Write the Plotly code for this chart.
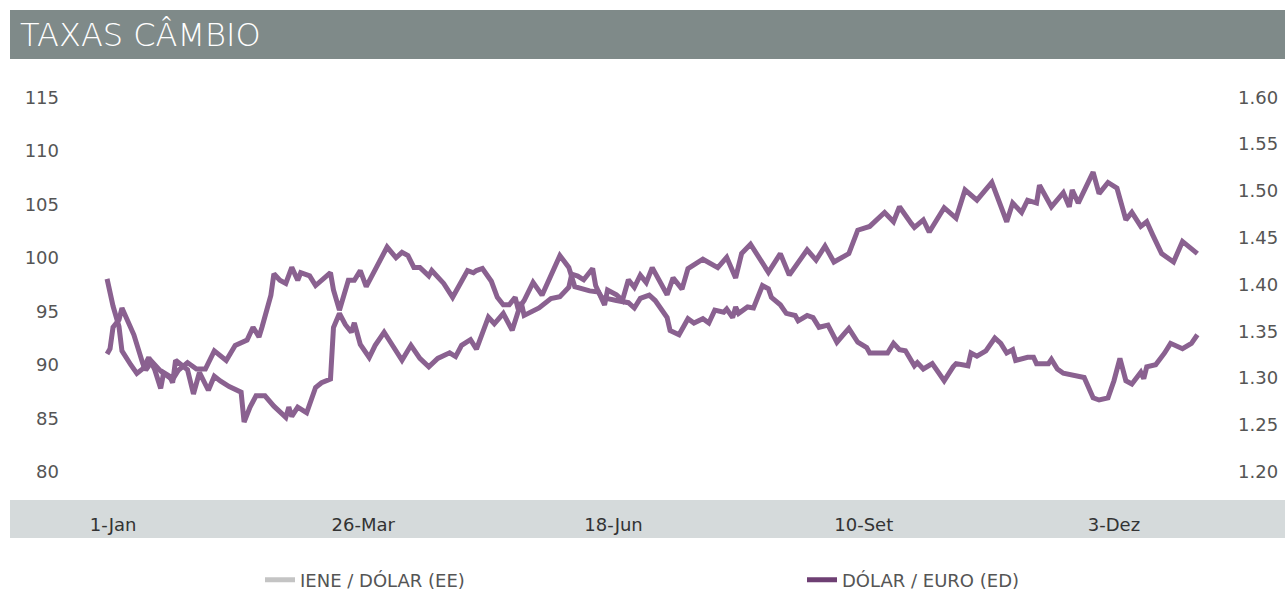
import plotly.graph_objects as go

# Day offsets from 1-Jan (2009) and values
yen_days = [-2, -1, 0, 2, 3, 7, 10, 11, 13, 16, 18, 20, 22, 25, 28, 31, 34, 37, 38, 41, 45, 47, 49, 50,
            53, 54, 56, 58, 60, 62, 63, 66, 68, 73, 74, 76, 79, 81, 83, 85, 90, 92, 95, 97, 99, 101,
            103, 105, 106, 107, 110, 111, 114, 119, 121, 122, 124, 127, 129, 131, 133, 135, 136, 138,
            141, 144, 150, 153, 155, 158, 160, 163, 164, 169, 173, 175, 177, 180, 182, 186, 187, 190,
            193, 195, 198, 200, 202, 205, 206, 208, 209, 210, 213, 215, 218, 220, 221, 224, 226, 229,
            230, 233, 235, 237, 240, 243, 247, 250, 253, 254, 260, 262, 264, 266, 268, 269, 270, 272,
            275, 277, 279, 282, 283, 287, 288, 290, 293, 296, 298, 300, 302, 303, 307, 309, 310, 314,
            315, 317, 319, 326, 329, 331, 334, 336, 338, 340, 342, 345, 346, 347, 350, 353, 355, 359,
            362, 364]
yen_values = [91.0, 91.5, 93.5, 94.2, 95.3, 92.8, 90.1, 89.5, 90.3, 89.4, 89.0, 88.6, 89.5, 90.2, 89.6,
              89.6, 91.3, 90.6, 90.4, 91.8, 92.3, 93.5, 92.6, 93.5, 96.5, 98.5, 97.9, 97.6, 99.1, 97.9,
              98.6, 98.3, 97.4, 98.6, 97.0, 95.1, 97.9, 97.9, 98.8, 97.3, 99.8, 101.0, 100.0, 100.5,
              100.2, 99.1, 99.1, 98.6, 98.3, 98.8, 98.0, 97.6, 96.3, 98.8, 98.6, 98.8, 99.0, 97.8, 96.3,
              95.6, 95.6, 96.3, 95.2, 96.0, 97.7, 96.5, 100.2, 99.1, 97.3, 97.0, 96.9, 96.8, 96.3, 96.0,
              95.8, 95.3, 96.2, 96.5, 96.0, 94.4, 93.2, 92.8, 94.3, 93.9, 94.3, 93.9, 95.1, 94.9, 95.2,
              94.4, 95.4, 94.8, 95.4, 95.3, 97.4, 97.1, 96.3, 95.6, 94.8, 94.6, 94.1, 94.6, 94.4, 93.5,
              93.7, 92.1, 93.4, 92.1, 91.6, 91.1, 91.1, 92.0, 91.4, 91.3, 90.3, 89.9, 90.2, 89.6, 90.1,
              89.2, 88.5, 89.8, 90.1, 89.9, 91.1, 90.8, 91.3, 92.5, 92.0, 91.1, 91.4, 90.4, 90.7, 90.7,
              90.1, 90.1, 90.5, 89.6, 89.2, 88.8, 86.9, 86.7, 86.9, 88.5, 90.6, 88.5, 88.2, 89.3, 88.7,
              89.8, 90.0, 91.1, 92.0, 91.5, 92.0, 92.8]

eur_days = [-2, 0, 2, 3, 6, 8, 10, 12, 14, 16, 17, 19, 20, 21, 23, 25, 27, 29, 32, 34, 36, 39, 43, 44,
            46, 48, 51, 54, 58, 59, 60, 62, 64, 65, 68, 70, 73, 74, 76, 78, 80, 81, 83, 86, 88, 91, 94,
            97, 100, 103, 106, 109, 113, 115, 117, 120, 122, 126, 128, 131, 134, 137, 138, 141, 143,
            147, 150, 153, 154, 156, 158, 161, 162, 165, 166, 169, 171, 173, 175, 177, 179, 181, 186,
            188, 191, 193, 198, 203, 206, 209, 211, 214, 220, 224, 227, 233, 236, 239, 242, 247, 250,
            254, 259, 262, 264, 268, 269, 272, 274, 279, 283, 286, 290, 295, 300, 302, 305, 307, 310,
            311, 315, 319, 321, 322, 324, 329, 331, 334, 337, 340, 342, 345, 347, 349, 352, 356, 359,
            364]
eur_values = [1.406, 1.377, 1.355, 1.329, 1.314, 1.305, 1.310, 1.322, 1.309, 1.289, 1.306, 1.302, 1.295,
              1.319, 1.314, 1.309, 1.283, 1.306, 1.287, 1.302, 1.297, 1.291, 1.285, 1.253, 1.269, 1.281,
              1.281, 1.270, 1.258, 1.269, 1.259, 1.269, 1.265, 1.263, 1.290, 1.295, 1.299, 1.354, 1.369,
              1.357, 1.349, 1.359, 1.336, 1.322, 1.335, 1.349, 1.334, 1.319, 1.335, 1.321, 1.312, 1.321,
              1.327, 1.323, 1.335, 1.341, 1.331, 1.365, 1.358, 1.369, 1.351, 1.381, 1.367, 1.371, 1.375,
              1.385, 1.387, 1.397, 1.411, 1.409, 1.405, 1.417, 1.399, 1.378, 1.394, 1.389, 1.383, 1.405,
              1.397, 1.410, 1.402, 1.418, 1.389, 1.407, 1.395, 1.417, 1.427, 1.418, 1.429, 1.407, 1.433,
              1.443, 1.413, 1.433, 1.410, 1.437, 1.426, 1.441, 1.424, 1.433, 1.458, 1.462, 1.477, 1.467,
              1.483, 1.465, 1.461, 1.469, 1.456, 1.482, 1.471, 1.501, 1.490, 1.509, 1.467, 1.487, 1.477,
              1.490, 1.487, 1.506, 1.483, 1.498, 1.483, 1.501, 1.487, 1.520, 1.497, 1.509, 1.503, 1.469,
              1.477, 1.462, 1.467, 1.453, 1.433, 1.424, 1.446, 1.433]

tick_days = [0, 84, 168, 252, 336]
tick_labels = ["1-Jan", "26-Mar", "18-Jun", "10-Set", "3-Dez"]
left_ticks = [80, 85, 90, 95, 100, 105, 110, 115]
right_ticks = [1.20, 1.25, 1.30, 1.35, 1.40, 1.45, 1.50, 1.55, 1.60]
series_names = ["IENE / DÓLAR (EE)", "DÓLAR / EURO (ED)"]

LINE = "#8a6190"
W, H = 1285, 592
L, R, T, B = 60, 48, 85, 97
pw, ph = W - L - R, H - T - B

def px(x):
    return (x - L) / pw

def py(y):
    return (H - B - y) / ph

fig = go.Figure()
fig.add_trace(go.Scatter(x=yen_days, y=yen_values, mode="lines", showlegend=False,
                         line=dict(color=LINE, width=5), yaxis="y"))
fig.add_trace(go.Scatter(x=eur_days, y=eur_values, mode="lines", showlegend=False,
                         line=dict(color=LINE, width=5), yaxis="y2"))
# legend entries
fig.add_trace(go.Scatter(x=[None], y=[None], mode="lines", name=series_names[0],
                         line=dict(color="#c4c4c4", width=5), legend="legend"))
fig.add_trace(go.Scatter(x=[None], y=[None], mode="lines", name=series_names[1],
                         line=dict(color="#6e3f73", width=5), legend="legend2"))

leg_common = dict(orientation="h", yanchor="middle", y=py(580), xanchor="left",
                  font=dict(size=18, color="#555555"), bgcolor="rgba(0,0,0,0)",
                  itemwidth=30)

fig.update_layout(
    width=W, height=H,
    margin=dict(l=L, r=R, t=T, b=B, autoexpand=False),
    paper_bgcolor="white", plot_bgcolor="white",
    font=dict(family="DejaVu Sans", color="#555555"),
    title=dict(text="TAXAS CÂMBIO", x=20 / W, xanchor="left", y=1 - 35 / H, yanchor="middle",
               font=dict(family="DejaVu Sans", size=32, color="white", weight=200)),
    xaxis=dict(range=[-17.8, 377.3], tickvals=tick_days, ticktext=tick_labels,
               showgrid=False, zeroline=False, showline=False, automargin=False,
               ticks="outside", ticklen=13, tickcolor="rgba(0,0,0,0)",
               tickfont=dict(size=18, color="#333333")),
    yaxis=dict(range=[77.82, 116.15], tickvals=left_ticks, showgrid=False, zeroline=False,
               showline=False, automargin=False, tickfont=dict(size=18, color="#555555")),
    yaxis2=dict(range=[1.1751, 1.6131], tickvals=right_ticks, tickformat=".2f",
                overlaying="y", side="right", showgrid=False, zeroline=False, showline=False,
                automargin=False, tickfont=dict(size=18, color="#555555")),
    legend=dict(x=px(260), **leg_common),
    legend2=dict(x=px(802), **leg_common),
    shapes=[
        dict(type="rect", xref="paper", yref="paper", x0=px(10), x1=px(1290), y0=py(59), y1=py(10),
             fillcolor="#7f8a89", line=dict(width=0), layer="below"),
        dict(type="rect", xref="paper", yref="paper", x0=px(10), x1=px(1290), y0=py(538), y1=py(500),
             fillcolor="#d5dadb", line=dict(width=0), layer="below"),
    ],
)

fig.write_html("out.html")
